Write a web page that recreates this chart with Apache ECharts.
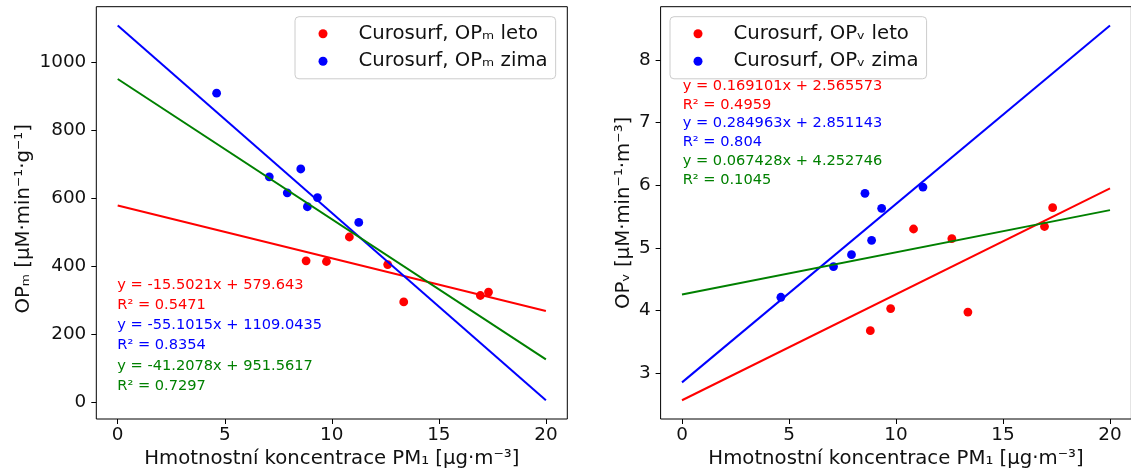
<!DOCTYPE html>
<html><head><meta charset="utf-8">
<script src="https://cdn.jsdelivr.net/npm/echarts@6/dist/echarts.min.js"></script>
<style>html,body{margin:0;padding:0;background:#fff}#c{width:1131px;height:475px}</style>
</head><body><div id="c"></div>
<script>
// ---- data ----
const pmLeto = [8.80, 9.75, 10.82, 12.61, 13.36, 16.94, 17.32];
const pmZima = [4.62, 7.08, 7.92, 8.55, 8.86, 9.33, 11.26];
const opmLeto = [417, 415, 487, 406, 296, 315, 325];
const opmZima = [910, 664, 617, 687, 576, 603, 530];
const opvLeto = [3.676, 4.03, 5.30, 5.146, 3.974, 5.34, 5.64];
const opvZima = [4.21, 4.70, 4.89, 5.87, 5.12, 5.63, 5.97];
// regression line end points (x = 0 and x = 20)
const fitX = [0, 20];
const fitMLeto = [579.643, 269.601];
const fitMZima = [1109.0435, 7.0135];
const fitMAll = [951.5617, 127.4057];
const fitVLeto = [2.565573, 5.947593];
const fitVZima = [2.851143, 8.550403];
const fitVAll = [4.252746, 5.601306];
const xTicks = [0, 5, 10, 15, 20];
const yTicksM = [0, 200, 400, 600, 800, 1000];
const yTicksV = [3, 4, 5, 6, 7, 8];
const annotM = ['y = -15.5021x + 579.643', 'R² = 0.5471', 'y = -55.1015x + 1109.0435', 'R² = 0.8354', 'y = -41.2078x + 951.5617', 'R² = 0.7297'];
const annotV = ['y = 0.169101x + 2.565573', 'R² = 0.4959', 'y = 0.284963x + 2.851143', 'R² = 0.804', 'y = 0.067428x + 4.252746', 'R² = 0.1045'];
const annotColors = ['#ff0000', '#ff0000', '#0000ff', '#0000ff', '#008000', '#008000'];
const namesM = ['Curosurf, OPₘ leto', 'Curosurf, OPₘ zima'];
const namesV = ['Curosurf, OPᵥ leto', 'Curosurf, OPᵥ zima'];

const FONT = 'DejaVu Sans';
const TICKFS = 18.4;
const LABFS = 19.7;
const pair = (xs, ys) => xs.map((x, i) => [x, ys[i]]);

function xAxisDef(gi) {
  return {
    type: 'value', gridIndex: gi, min: -1, max: 21,
    name: 'Hmotnostní koncentrace PM₁ [μg·m⁻³]', nameLocation: 'middle', nameGap: 29,
    nameTextStyle: {fontFamily: FONT, fontSize: LABFS, color: '#111'},
    axisLine: {show: false, onZero: false}, splitLine: {show: false},
    axisTick: {show: true, customValues: xTicks, length: 5, lineStyle: {color: '#000', width: 1}},
    axisLabel: {customValues: xTicks, margin: 7, fontFamily: FONT, fontSize: TICKFS, color: '#111',
      formatter: v => String(v)}
  };
}
function yAxisDef(gi, min, max, ticks, name, gap, pad) {
  return {
    type: 'value', gridIndex: gi, min: min, max: max,
    name: name, nameLocation: 'middle', nameRotate: 90, nameGap: gap,
    nameTextStyle: {fontFamily: FONT, fontSize: LABFS, color: '#111', padding: pad},
    axisLine: {show: false, onZero: false}, splitLine: {show: false},
    axisTick: {show: true, customValues: ticks, length: 5, lineStyle: {color: '#000', width: 1}},
    axisLabel: {customValues: ticks, margin: 10, fontFamily: FONT, fontSize: TICKFS, color: '#111',
      formatter: v => String(v)}
  };
}
function legendDef(left, names) {
  return {
    left: left, top: 16.7, orient: 'vertical', data: names,
    icon: 'circle', itemWidth: 9, itemHeight: 9, itemGap: 5.6,
    padding: [6, 8, 6.5, 23.5],
    backgroundColor: 'rgba(255,255,255,0.8)', borderColor: '#cccccc', borderWidth: 1, borderRadius: 4,
    itemStyle: {opacity: 1},
    textStyle: {fontFamily: FONT, fontSize: LABFS, color: '#111', lineHeight: 22, padding: [0, 0, 0, 26]}
  };
}
function scatter(name, xi, yi, data, color) {
  return {type: 'scatter', name: name, xAxisIndex: xi, yAxisIndex: yi, data: data,
    symbol: 'circle', symbolSize: 8.8, itemStyle: {color: color, opacity: 1}, z: 2};
}
function fit(name, xi, yi, ys, color) {
  return {type: 'line', name: name, xAxisIndex: xi, yAxisIndex: yi, data: pair(fitX, ys),
    showSymbol: false, symbol: 'none', lineStyle: {color: color, width: 2}, z: 3, silent: true};
}
function annot(lines, x, y0, step) {
  return lines.map((t, i) => ({
    type: 'text', left: x, top: y0 + i * step - 9, z: 10,
    style: {text: t, fill: annotColors[i], font: '14.6px "DejaVu Sans"', lineHeight: 18}
  }));
}

const chart = echarts.init(document.getElementById('c'), null, {renderer: 'canvas'});
chart.setOption({
  animation: false,
  backgroundColor: '#fff',
  grid: [
    {left: 96.3, top: 6.7, width: 471, height: 412.3, show: true, borderColor: '#000', borderWidth: 1, containLabel: false, outerBoundsMode: 'none'},
    {left: 660.6, top: 6.7, width: 470.8, height: 412.3, show: true, borderColor: '#000', borderWidth: 1, containLabel: false, outerBoundsMode: 'none'}
  ],
  xAxis: [xAxisDef(0), xAxisDef(1)],
  yAxis: [
    yAxisDef(0, -48.09, 1164.1, yTicksM, 'OPₘ [μM·min⁻¹·g⁻¹]', 62, [0, 12, 0, 0]),
    yAxisDef(1, 2.26633, 8.84964, yTicksV, 'OPᵥ [μM·min⁻¹·m⁻³]', 27, [0, 0, 0, 0])
  ],
  legend: [legendDef(295, namesM), legendDef(670, namesV)],
  series: [
    scatter(namesM[0], 0, 0, pair(pmLeto, opmLeto), '#ff0000'),
    scatter(namesM[1], 0, 0, pair(pmZima, opmZima), '#0000ff'),
    fit('fit m leto', 0, 0, fitMLeto, '#ff0000'),
    fit('fit m zima', 0, 0, fitMZima, '#0000ff'),
    fit('fit m all', 0, 0, fitMAll, '#008000'),
    scatter(namesV[0], 1, 1, pair(pmLeto, opvLeto), '#ff0000'),
    scatter(namesV[1], 1, 1, pair(pmZima, opvZima), '#0000ff'),
    fit('fit v leto', 1, 1, fitVLeto, '#ff0000'),
    fit('fit v zima', 1, 1, fitVZima, '#0000ff'),
    fit('fit v all', 1, 1, fitVAll, '#008000')
  ],
  graphic: annot(annotM, 117.3, 285, 20.2).concat(annot(annotV, 682.7, 86, 18.8))
});
</script></body></html>
